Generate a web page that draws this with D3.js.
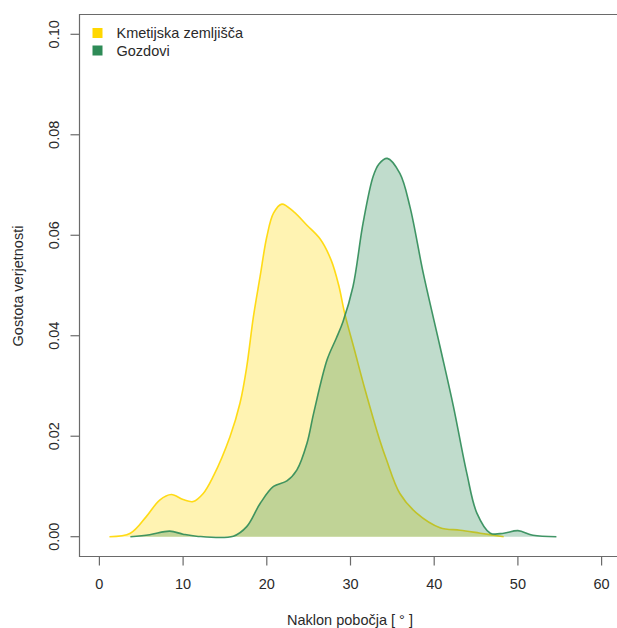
<!DOCTYPE html>
<html>
<head>
<meta charset="utf-8">
<script src="https://cdn.jsdelivr.net/npm/d3@7"></script>
<style>
  body { margin: 0; background: #fff; }
  svg text { font-family: "Liberation Sans", Arial, sans-serif; fill: #2a2a2a; }
</style>
</head>
<body>
<div id="chart"></div>
<script>
// density estimates (slope in degrees, density)
const agriSlope = [1.2, 3.7, 5.6, 7.2, 8.6, 10.0, 11.2, 12.4, 13.6, 15.6, 16.8, 17.6, 18.4, 19.2, 20.0, 20.8, 21.8, 23.2, 24.8, 26.4, 27.7, 28.6, 29.3, 30.5, 31.7, 33.5, 34.3, 35.9, 37.9, 40.7, 43.1, 45.5, 48.3];
const agriDensity = [0, 0.0007, 0.0040, 0.0073, 0.0084, 0.0074, 0.0070, 0.0086, 0.0120, 0.0199, 0.0266, 0.0338, 0.0438, 0.0518, 0.0597, 0.0644, 0.0662, 0.0647, 0.0620, 0.0592, 0.0550, 0.0500, 0.0445, 0.0370, 0.0295, 0.0192, 0.0153, 0.0086, 0.0047, 0.0018, 0.0013, 0.0007, 0];

const forestSlope = [3.7, 6.0, 8.4, 10.0, 11.6, 16.0, 17.6, 19.2, 20.8, 22.4, 23.6, 24.8, 25.6, 27.2, 28.3, 29.1, 30.3, 31.5, 32.7, 33.4, 34.4, 35.9, 37.1, 38.7, 40.7, 42.3, 43.9, 45.1, 46.7, 48.3, 50.0, 51.8, 54.6];
const forestDensity = [0, 0.0004, 0.0011, 0.0005, 0.0001, 0.0001, 0.0020, 0.0066, 0.0100, 0.0111, 0.0133, 0.0186, 0.0246, 0.0352, 0.0395, 0.0428, 0.0498, 0.0624, 0.0717, 0.0742, 0.0753, 0.0723, 0.0657, 0.0524, 0.0378, 0.0259, 0.0126, 0.0047, 0.0007, 0.0007, 0.0012, 0.0003, 0];

const seriesNames = ["Kmetijska zemljišča", "Gozdovi"];
const seriesColors = ["#ffd700", "#2e8b57"];
const xTicks = [0, 10, 20, 30, 40, 50, 60];
const yTicks = [0, 0.02, 0.04, 0.06, 0.08, 0.10];

const width = 617, height = 628;
const svg = d3.select("#chart").append("svg")
  .attr("width", width)
  .attr("height", height);

// plot box edges
const boxLeft = 79.5, boxTop = 14.5, boxBottom = 556.5, boxRight = 640;

const x = d3.scaleLinear().domain([0, 60]).range([99.4, 601.6]);
const y = d3.scaleLinear().domain([0, 0.10]).range([536.7, 34.3]);

const series = [
  { name: seriesNames[0], color: seriesColors[0], pts: agriSlope.map((s, i) => [s, agriDensity[i]]) },
  { name: seriesNames[1], color: seriesColors[1], pts: forestSlope.map((s, i) => [s, forestDensity[i]]) }
];

const curve = d3.curveCatmullRom.alpha(0.5);

const area = d3.area()
  .x(d => x(d[0]))
  .y0(y(0))
  .y1(d => y(d[1]))
  .curve(curve);

const line = d3.line()
  .x(d => x(d[0]))
  .y(d => y(d[1]))
  .curve(curve);

// draw each polygon: fill with alpha, then its border
series.forEach(s => {
  svg.append("path")
    .attr("d", area(s.pts))
    .attr("fill", s.color)
    .attr("fill-opacity", 0.3);
  svg.append("path")
    .attr("d", line(s.pts))
    .attr("fill", "none")
    .attr("stroke", s.color)
    .attr("stroke-opacity", 0.9)
    .attr("stroke-width", 1.6);
});

// box (open on the right, as in the picture)
svg.append("path")
  .attr("d", `M${boxRight},${boxTop}H${boxLeft}V${boxBottom}H${boxRight}`)
  .attr("fill", "none")
  .attr("stroke", "#6a6a6a")
  .attr("stroke-width", 1.2);

// x axis
const xAxis = svg.append("g");
xAxis.selectAll("line").data(xTicks).join("line")
  .attr("x1", d => x(d)).attr("x2", d => x(d))
  .attr("y1", boxBottom).attr("y2", boxBottom + 9)
  .attr("stroke", "#6a6a6a").attr("stroke-width", 1.2);
xAxis.selectAll("text").data(xTicks).join("text")
  .attr("x", d => x(d))
  .attr("y", 589)
  .attr("text-anchor", "middle")
  .attr("font-size", 14.5)
  .text(d => d);

// y axis
const yAxis = svg.append("g");
yAxis.selectAll("line").data(yTicks).join("line")
  .attr("x1", boxLeft - 9).attr("x2", boxLeft)
  .attr("y1", d => y(d)).attr("y2", d => y(d))
  .attr("stroke", "#6a6a6a").attr("stroke-width", 1.2);
yAxis.selectAll("text").data(yTicks).join("text")
  .attr("transform", d => `translate(59,${y(d)}) rotate(-90)`)
  .attr("text-anchor", "middle")
  .attr("font-size", 14.5)
  .text(d => d3.format(".2f")(d));

// axis titles
svg.append("text")
  .attr("x", 350)
  .attr("y", 625)
  .attr("text-anchor", "middle")
  .attr("font-size", 14.5)
  .text("Naklon pobočja [ ° ]");

svg.append("text")
  .attr("transform", "translate(23,286) rotate(-90)")
  .attr("text-anchor", "middle")
  .attr("font-size", 14.5)
  .text("Gostota verjetnosti");

// legend
const legend = svg.append("g");
series.forEach((s, i) => {
  const ly = 33 + i * 17.5;
  legend.append("rect")
    .attr("x", 92.5).attr("y", ly - 5)
    .attr("width", 10).attr("height", 10)
    .attr("fill", s.color);
  legend.append("text")
    .attr("x", 116.5).attr("y", ly + 5)
    .attr("font-size", 14.5)
    .text(s.name);
});
</script>
</body>
</html>
